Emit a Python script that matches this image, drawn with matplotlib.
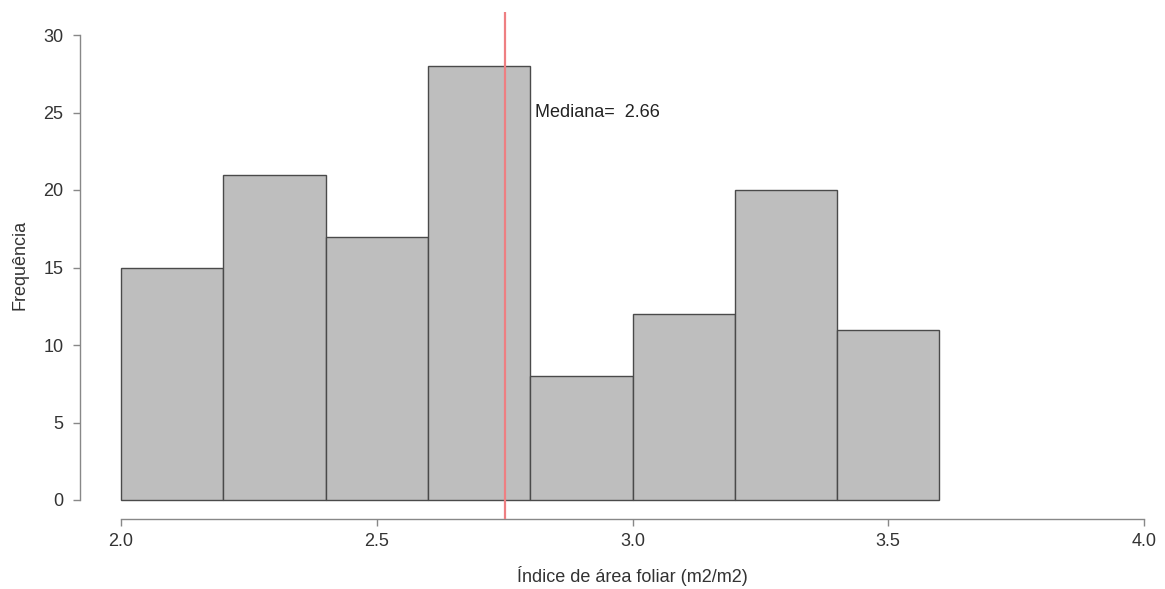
import matplotlib
matplotlib.use("Agg")
import matplotlib.pyplot as plt
import numpy as np

plt.rcParams['font.family'] = ['Liberation Sans', 'DejaVu Sans']

bin_edges = [2.0, 2.2, 2.4, 2.6, 2.8, 3.0, 3.2, 3.4, 3.6]
counts = [15, 21, 17, 28, 8, 12, 20, 11]
median_line_x = 2.75
median_label = "Mediana=  2.66"
x_ticks = [2.0, 2.5, 3.0, 3.5, 4.0]
y_ticks = [0, 5, 10, 15, 20, 25, 30]

W, H = 1165, 589
fig = plt.figure(figsize=(W / 100, H / 100), dpi=100)

FS = 13

# axes box in pixels
left_px, right_px, bottom_px, top_px = 80, 1160, 519, 12
ax = fig.add_axes([left_px / W, 1 - bottom_px / H, (right_px - left_px) / W, (bottom_px - top_px) / H])

x0_px, ppu_x = 121, 511.5
y0_px, ppu_y = 500, 15.5
ax.set_xlim(2.0 + (left_px - x0_px) / ppu_x, 2.0 + (right_px - x0_px) / ppu_x)
ax.set_ylim((y0_px - bottom_px) / ppu_y, (y0_px - top_px) / ppu_y)

widths = np.diff(bin_edges)
ax.bar(bin_edges[:-1], counts, width=widths, align='edge', color='#bebebe',
       edgecolor='#4a4a4a', linewidth=1.0, zorder=2)

ax.axvline(median_line_x, color='#ee7f82', linewidth=1.6, zorder=3)
ax.text(2.81, 25, median_label, ha='left', va='center', fontsize=FS, color='#222222')

for s in ['top', 'right']:
    ax.spines[s].set_visible(False)
ax.spines['left'].set_bounds(0, 30)
ax.spines['bottom'].set_bounds(2.0, 4.0)
for s in ['left', 'bottom']:
    ax.spines[s].set_color('#888888')
    ax.spines[s].set_linewidth(1.0)

ax.set_xticks(x_ticks)
ax.set_xticklabels([f"{v:.1f}" for v in x_ticks])
ax.set_yticks(y_ticks)
ax.tick_params(axis='both', colors='#888888', labelcolor='#333333', labelsize=FS, length=5, width=1.0)
ax.tick_params(axis='y', pad=7)
ax.tick_params(axis='x', pad=5)

fig.text(632 / W, 1 - 576 / H, "Índice de área foliar (m2/m2)", ha='center', va='center', fontsize=FS, color='#333333')
fig.text(20 / W, 1 - 265 / H, "Frequência", ha='center', va='center', rotation=90, fontsize=FS, color='#333333')

fig.savefig("out.png", dpi=100, facecolor='white')
